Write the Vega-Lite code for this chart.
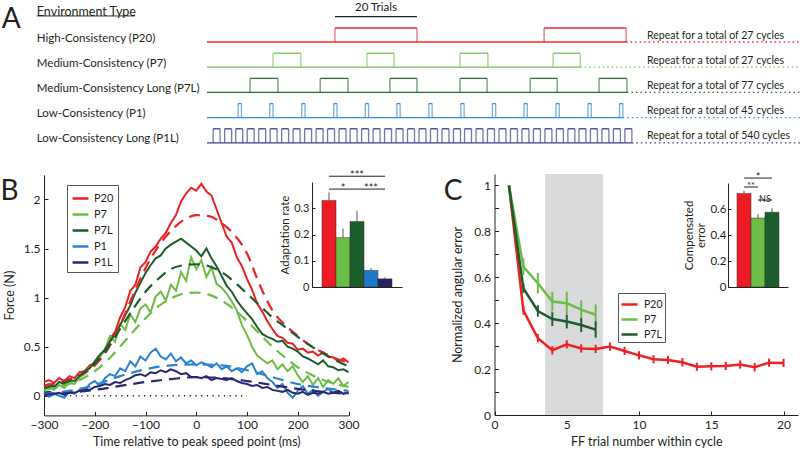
{
"$schema":"https://vega.github.io/schema/vega-lite/v6.json",
"width":800,"height":451,"autosize":{"type":"none"},"padding":0,"background":"white",
"config":{
 "view":{"stroke":null},
 "font":"Lato",
 "text":{"font":"Lato","color":"#231f20"},
 "axis":{"grid":false,"labelFont":"Lato","titleFont":"Lato","labelFontSize":12,"titleFontSize":12.5,"titleFontWeight":"normal","labelColor":"#231f20","titleColor":"#231f20","domainColor":"#231f20","tickColor":"#231f20","domainWidth":1,"tickWidth":1,"labelFlush":false,"labelOverlap":false},
 "legend":{"labelFont":"Lato","labelFontSize":11,"labelColor":"#231f20"}
},
"datasets":{
 "pulses":[
  {"env":"High-Consistency (P20)","s":31.2,"e":51.2},{"env":"High-Consistency (P20)","s":82.2,"e":102.2},
  {"env":"Medium-Consistency (P7)","s":16.1,"e":22.9},{"env":"Medium-Consistency (P7)","s":39.0,"e":45.6},{"env":"Medium-Consistency (P7)","s":61.7,"e":68.5},{"env":"Medium-Consistency (P7)","s":84.4,"e":91.0},
  {"env":"Medium-Consistency Long (P7L)","s":10.5,"e":17.3},{"env":"Medium-Consistency Long (P7L)","s":27.6,"e":34.4},{"env":"Medium-Consistency Long (P7L)","s":44.6,"e":51.2},{"env":"Medium-Consistency Long (P7L)","s":61.7,"e":68.3},{"env":"Medium-Consistency Long (P7L)","s":78.8,"e":85.4},{"env":"Medium-Consistency Long (P7L)","s":95.6,"e":102.4},
  {"env":"Low-Consistency (P1)","s":7.6,"e":8.4},{"env":"Low-Consistency (P1)","s":15.3,"e":16.1},{"env":"Low-Consistency (P1)","s":23.1,"e":23.9},{"env":"Low-Consistency (P1)","s":30.9,"e":31.7},{"env":"Low-Consistency (P1)","s":38.6,"e":39.4},{"env":"Low-Consistency (P1)","s":46.3,"e":47.1},{"env":"Low-Consistency (P1)","s":54.1,"e":54.9},{"env":"Low-Consistency (P1)","s":61.9,"e":62.7},{"env":"Low-Consistency (P1)","s":69.6,"e":70.4},{"env":"Low-Consistency (P1)","s":77.3,"e":78.1},{"env":"Low-Consistency (P1)","s":85.1,"e":85.9},{"env":"Low-Consistency (P1)","s":92.9,"e":93.7},{"env":"Low-Consistency (P1)","s":100.6,"e":101.4},
  {"env":"Low-Consistency Long (P1L)","s":1.5,"e":3.2},{"env":"Low-Consistency Long (P1L)","s":4.3,"e":6.0},{"env":"Low-Consistency Long (P1L)","s":7.0,"e":8.7},{"env":"Low-Consistency Long (P1L)","s":9.8,"e":11.5},{"env":"Low-Consistency Long (P1L)","s":12.6,"e":14.3},{"env":"Low-Consistency Long (P1L)","s":15.4,"e":17.1},{"env":"Low-Consistency Long (P1L)","s":18.2,"e":19.9},{"env":"Low-Consistency Long (P1L)","s":21.0,"e":22.7},{"env":"Low-Consistency Long (P1L)","s":23.8,"e":25.5},{"env":"Low-Consistency Long (P1L)","s":26.6,"e":28.3},{"env":"Low-Consistency Long (P1L)","s":29.4,"e":31.1},{"env":"Low-Consistency Long (P1L)","s":32.2,"e":33.9},{"env":"Low-Consistency Long (P1L)","s":34.9,"e":36.6},{"env":"Low-Consistency Long (P1L)","s":37.7,"e":39.4},{"env":"Low-Consistency Long (P1L)","s":40.5,"e":42.2},{"env":"Low-Consistency Long (P1L)","s":43.3,"e":45.0},{"env":"Low-Consistency Long (P1L)","s":46.1,"e":47.8},{"env":"Low-Consistency Long (P1L)","s":48.9,"e":50.6},{"env":"Low-Consistency Long (P1L)","s":51.7,"e":53.4},{"env":"Low-Consistency Long (P1L)","s":54.5,"e":56.2},{"env":"Low-Consistency Long (P1L)","s":57.3,"e":59.0},{"env":"Low-Consistency Long (P1L)","s":60.1,"e":61.8},{"env":"Low-Consistency Long (P1L)","s":62.8,"e":64.5},{"env":"Low-Consistency Long (P1L)","s":65.6,"e":67.3},{"env":"Low-Consistency Long (P1L)","s":68.4,"e":70.1},{"env":"Low-Consistency Long (P1L)","s":71.2,"e":72.9},{"env":"Low-Consistency Long (P1L)","s":74.0,"e":75.7},{"env":"Low-Consistency Long (P1L)","s":76.8,"e":78.5},{"env":"Low-Consistency Long (P1L)","s":79.6,"e":81.3},{"env":"Low-Consistency Long (P1L)","s":82.4,"e":84.1},{"env":"Low-Consistency Long (P1L)","s":85.2,"e":86.9},{"env":"Low-Consistency Long (P1L)","s":88.0,"e":89.7},{"env":"Low-Consistency Long (P1L)","s":90.7,"e":92.4},{"env":"Low-Consistency Long (P1L)","s":93.5,"e":95.2},{"env":"Low-Consistency Long (P1L)","s":96.3,"e":98.0},{"env":"Low-Consistency Long (P1L)","s":99.1,"e":100.8},{"env":"Low-Consistency Long (P1L)","s":101.9,"e":103.6}
 ],
 "repeat":[
  {"env":"High-Consistency (P20)","end":102.2,"note":"Repeat for a total of 27 cycles"},
  {"env":"Medium-Consistency (P7)","end":91.0,"note":"Repeat for a total of 27 cycles"},
  {"env":"Medium-Consistency Long (P7L)","end":102.4,"note":"Repeat for a total of 77 cycles"},
  {"env":"Low-Consistency (P1)","end":101.4,"note":"Repeat for a total of 45 cycles"},
  {"env":"Low-Consistency Long (P1L)","end":103.6,"note":"Repeat for a total of 540 cycles"}
 ],
 "forceSolid":[
  {"c":"P20","t":-300,"v":0.14},{"c":"P20","t":-290,"v":0.16},{"c":"P20","t":-280,"v":0.13},{"c":"P20","t":-270,"v":0.18},{"c":"P20","t":-260,"v":0.15},{"c":"P20","t":-250,"v":0.20},{"c":"P20","t":-240,"v":0.18},{"c":"P20","t":-230,"v":0.24},{"c":"P20","t":-220,"v":0.25},{"c":"P20","t":-210,"v":0.31},{"c":"P20","t":-200,"v":0.33},{"c":"P20","t":-190,"v":0.41},{"c":"P20","t":-180,"v":0.46},{"c":"P20","t":-170,"v":0.58},{"c":"P20","t":-160,"v":0.65},{"c":"P20","t":-150,"v":0.80},{"c":"P20","t":-140,"v":0.90},{"c":"P20","t":-130,"v":1.07},{"c":"P20","t":-120,"v":1.13},{"c":"P20","t":-110,"v":1.31},{"c":"P20","t":-100,"v":1.36},{"c":"P20","t":-90,"v":1.47},{"c":"P20","t":-80,"v":1.52},{"c":"P20","t":-70,"v":1.60},{"c":"P20","t":-60,"v":1.66},{"c":"P20","t":-50,"v":1.76},{"c":"P20","t":-40,"v":1.84},{"c":"P20","t":-30,"v":1.98},{"c":"P20","t":-20,"v":2.06},{"c":"P20","t":-10,"v":2.12},{"c":"P20","t":0,"v":2.09},{"c":"P20","t":10,"v":2.16},{"c":"P20","t":20,"v":2.08},{"c":"P20","t":30,"v":2.04},{"c":"P20","t":40,"v":1.90},{"c":"P20","t":50,"v":1.76},{"c":"P20","t":60,"v":1.62},{"c":"P20","t":70,"v":1.56},{"c":"P20","t":80,"v":1.41},{"c":"P20","t":90,"v":1.32},{"c":"P20","t":100,"v":1.19},{"c":"P20","t":110,"v":1.08},{"c":"P20","t":120,"v":0.94},{"c":"P20","t":130,"v":0.86},{"c":"P20","t":140,"v":0.76},{"c":"P20","t":150,"v":0.68},{"c":"P20","t":160,"v":0.61},{"c":"P20","t":170,"v":0.59},{"c":"P20","t":180,"v":0.54},{"c":"P20","t":190,"v":0.53},{"c":"P20","t":200,"v":0.47},{"c":"P20","t":210,"v":0.48},{"c":"P20","t":220,"v":0.44},{"c":"P20","t":230,"v":0.45},{"c":"P20","t":240,"v":0.41},{"c":"P20","t":250,"v":0.44},{"c":"P20","t":260,"v":0.40},{"c":"P20","t":270,"v":0.39},{"c":"P20","t":280,"v":0.35},{"c":"P20","t":290,"v":0.38},{"c":"P20","t":300,"v":0.34},
  {"c":"P7","t":-300,"v":0.05},{"c":"P7","t":-290,"v":0.09},{"c":"P7","t":-280,"v":0.06},{"c":"P7","t":-270,"v":0.11},{"c":"P7","t":-260,"v":0.08},{"c":"P7","t":-250,"v":0.14},{"c":"P7","t":-240,"v":0.12},{"c":"P7","t":-230,"v":0.19},{"c":"P7","t":-220,"v":0.22},{"c":"P7","t":-210,"v":0.29},{"c":"P7","t":-200,"v":0.33},{"c":"P7","t":-190,"v":0.39},{"c":"P7","t":-180,"v":0.47},{"c":"P7","t":-170,"v":0.61},{"c":"P7","t":-160,"v":0.55},{"c":"P7","t":-150,"v":0.73},{"c":"P7","t":-140,"v":0.67},{"c":"P7","t":-130,"v":0.83},{"c":"P7","t":-120,"v":0.75},{"c":"P7","t":-110,"v":0.89},{"c":"P7","t":-100,"v":0.93},{"c":"P7","t":-90,"v":0.85},{"c":"P7","t":-80,"v":1.01},{"c":"P7","t":-70,"v":1.06},{"c":"P7","t":-60,"v":0.97},{"c":"P7","t":-50,"v":1.13},{"c":"P7","t":-40,"v":1.07},{"c":"P7","t":-30,"v":1.26},{"c":"P7","t":-20,"v":1.17},{"c":"P7","t":-10,"v":1.41},{"c":"P7","t":0,"v":1.29},{"c":"P7","t":10,"v":1.38},{"c":"P7","t":20,"v":1.21},{"c":"P7","t":30,"v":1.31},{"c":"P7","t":40,"v":1.14},{"c":"P7","t":50,"v":1.10},{"c":"P7","t":60,"v":1.04},{"c":"P7","t":70,"v":0.96},{"c":"P7","t":80,"v":0.87},{"c":"P7","t":90,"v":0.72},{"c":"P7","t":100,"v":0.62},{"c":"P7","t":110,"v":0.50},{"c":"P7","t":120,"v":0.41},{"c":"P7","t":130,"v":0.37},{"c":"P7","t":140,"v":0.33},{"c":"P7","t":150,"v":0.36},{"c":"P7","t":160,"v":0.27},{"c":"P7","t":170,"v":0.32},{"c":"P7","t":180,"v":0.25},{"c":"P7","t":190,"v":0.30},{"c":"P7","t":200,"v":0.21},{"c":"P7","t":210,"v":0.14},{"c":"P7","t":220,"v":0.20},{"c":"P7","t":230,"v":0.11},{"c":"P7","t":240,"v":0.18},{"c":"P7","t":250,"v":0.09},{"c":"P7","t":260,"v":0.16},{"c":"P7","t":270,"v":0.12},{"c":"P7","t":280,"v":0.18},{"c":"P7","t":290,"v":0.10},{"c":"P7","t":300,"v":0.14},
  {"c":"P7L","t":-300,"v":0.10},{"c":"P7L","t":-290,"v":0.12},{"c":"P7L","t":-280,"v":0.09},{"c":"P7L","t":-270,"v":0.14},{"c":"P7L","t":-260,"v":0.12},{"c":"P7L","t":-250,"v":0.16},{"c":"P7L","t":-240,"v":0.15},{"c":"P7L","t":-230,"v":0.20},{"c":"P7L","t":-220,"v":0.25},{"c":"P7L","t":-210,"v":0.28},{"c":"P7L","t":-200,"v":0.35},{"c":"P7L","t":-190,"v":0.42},{"c":"P7L","t":-180,"v":0.47},{"c":"P7L","t":-170,"v":0.55},{"c":"P7L","t":-160,"v":0.63},{"c":"P7L","t":-150,"v":0.72},{"c":"P7L","t":-140,"v":0.82},{"c":"P7L","t":-130,"v":0.92},{"c":"P7L","t":-120,"v":1.05},{"c":"P7L","t":-110,"v":1.15},{"c":"P7L","t":-100,"v":1.25},{"c":"P7L","t":-90,"v":1.33},{"c":"P7L","t":-80,"v":1.40},{"c":"P7L","t":-70,"v":1.43},{"c":"P7L","t":-60,"v":1.50},{"c":"P7L","t":-50,"v":1.54},{"c":"P7L","t":-40,"v":1.57},{"c":"P7L","t":-30,"v":1.60},{"c":"P7L","t":-20,"v":1.56},{"c":"P7L","t":-10,"v":1.52},{"c":"P7L","t":0,"v":1.48},{"c":"P7L","t":10,"v":1.42},{"c":"P7L","t":20,"v":1.50},{"c":"P7L","t":30,"v":1.40},{"c":"P7L","t":40,"v":1.32},{"c":"P7L","t":50,"v":1.22},{"c":"P7L","t":60,"v":1.12},{"c":"P7L","t":70,"v":1.06},{"c":"P7L","t":80,"v":0.97},{"c":"P7L","t":90,"v":0.90},{"c":"P7L","t":100,"v":0.84},{"c":"P7L","t":110,"v":0.78},{"c":"P7L","t":120,"v":0.70},{"c":"P7L","t":130,"v":0.63},{"c":"P7L","t":140,"v":0.60},{"c":"P7L","t":150,"v":0.58},{"c":"P7L","t":160,"v":0.55},{"c":"P7L","t":170,"v":0.56},{"c":"P7L","t":180,"v":0.50},{"c":"P7L","t":190,"v":0.48},{"c":"P7L","t":200,"v":0.45},{"c":"P7L","t":210,"v":0.40},{"c":"P7L","t":220,"v":0.38},{"c":"P7L","t":230,"v":0.35},{"c":"P7L","t":240,"v":0.32},{"c":"P7L","t":250,"v":0.36},{"c":"P7L","t":260,"v":0.30},{"c":"P7L","t":270,"v":0.29},{"c":"P7L","t":280,"v":0.26},{"c":"P7L","t":290,"v":0.27},{"c":"P7L","t":300,"v":0.24},
  {"c":"P1","t":-300,"v":0.03},{"c":"P1","t":-290,"v":-0.01},{"c":"P1","t":-280,"v":0.02},{"c":"P1","t":-270,"v":0.00},{"c":"P1","t":-260,"v":-0.02},{"c":"P1","t":-250,"v":0.04},{"c":"P1","t":-240,"v":0.02},{"c":"P1","t":-230,"v":0.06},{"c":"P1","t":-220,"v":0.05},{"c":"P1","t":-210,"v":0.12},{"c":"P1","t":-200,"v":0.15},{"c":"P1","t":-190,"v":0.10},{"c":"P1","t":-180,"v":0.18},{"c":"P1","t":-170,"v":0.22},{"c":"P1","t":-160,"v":0.20},{"c":"P1","t":-150,"v":0.28},{"c":"P1","t":-140,"v":0.25},{"c":"P1","t":-130,"v":0.35},{"c":"P1","t":-120,"v":0.30},{"c":"P1","t":-110,"v":0.40},{"c":"P1","t":-100,"v":0.36},{"c":"P1","t":-90,"v":0.44},{"c":"P1","t":-80,"v":0.48},{"c":"P1","t":-70,"v":0.40},{"c":"P1","t":-60,"v":0.37},{"c":"P1","t":-50,"v":0.43},{"c":"P1","t":-40,"v":0.35},{"c":"P1","t":-30,"v":0.39},{"c":"P1","t":-20,"v":0.33},{"c":"P1","t":-10,"v":0.36},{"c":"P1","t":0,"v":0.31},{"c":"P1","t":10,"v":0.34},{"c":"P1","t":20,"v":0.32},{"c":"P1","t":30,"v":0.29},{"c":"P1","t":40,"v":0.33},{"c":"P1","t":50,"v":0.27},{"c":"P1","t":60,"v":0.30},{"c":"P1","t":70,"v":0.25},{"c":"P1","t":80,"v":0.28},{"c":"P1","t":90,"v":0.24},{"c":"P1","t":100,"v":0.30},{"c":"P1","t":110,"v":0.33},{"c":"P1","t":120,"v":0.22},{"c":"P1","t":130,"v":0.25},{"c":"P1","t":140,"v":0.18},{"c":"P1","t":150,"v":0.14},{"c":"P1","t":160,"v":0.08},{"c":"P1","t":170,"v":0.12},{"c":"P1","t":180,"v":0.03},{"c":"P1","t":190,"v":-0.02},{"c":"P1","t":200,"v":0.05},{"c":"P1","t":210,"v":0.10},{"c":"P1","t":220,"v":0.02},{"c":"P1","t":230,"v":0.06},{"c":"P1","t":240,"v":0.00},{"c":"P1","t":250,"v":0.04},{"c":"P1","t":260,"v":0.07},{"c":"P1","t":270,"v":0.03},{"c":"P1","t":280,"v":0.05},{"c":"P1","t":290,"v":0.02},{"c":"P1","t":300,"v":0.04},
  {"c":"P1L","t":-300,"v":0.03},{"c":"P1L","t":-290,"v":0.04},{"c":"P1L","t":-280,"v":0.02},{"c":"P1L","t":-270,"v":0.03},{"c":"P1L","t":-260,"v":0.01},{"c":"P1L","t":-250,"v":0.04},{"c":"P1L","t":-240,"v":0.03},{"c":"P1L","t":-230,"v":0.05},{"c":"P1L","t":-220,"v":0.07},{"c":"P1L","t":-210,"v":0.06},{"c":"P1L","t":-200,"v":0.09},{"c":"P1L","t":-190,"v":0.10},{"c":"P1L","t":-180,"v":0.12},{"c":"P1L","t":-170,"v":0.11},{"c":"P1L","t":-160,"v":0.14},{"c":"P1L","t":-150,"v":0.13},{"c":"P1L","t":-140,"v":0.16},{"c":"P1L","t":-130,"v":0.18},{"c":"P1L","t":-120,"v":0.21},{"c":"P1L","t":-110,"v":0.22},{"c":"P1L","t":-100,"v":0.20},{"c":"P1L","t":-90,"v":0.24},{"c":"P1L","t":-80,"v":0.23},{"c":"P1L","t":-70,"v":0.26},{"c":"P1L","t":-60,"v":0.24},{"c":"P1L","t":-50,"v":0.27},{"c":"P1L","t":-40,"v":0.25},{"c":"P1L","t":-30,"v":0.22},{"c":"P1L","t":-20,"v":0.23},{"c":"P1L","t":-10,"v":0.19},{"c":"P1L","t":0,"v":0.19},{"c":"P1L","t":10,"v":0.18},{"c":"P1L","t":20,"v":0.20},{"c":"P1L","t":30,"v":0.16},{"c":"P1L","t":40,"v":0.18},{"c":"P1L","t":50,"v":0.17},{"c":"P1L","t":60,"v":0.16},{"c":"P1L","t":70,"v":0.18},{"c":"P1L","t":80,"v":0.15},{"c":"P1L","t":90,"v":0.13},{"c":"P1L","t":100,"v":0.12},{"c":"P1L","t":110,"v":0.10},{"c":"P1L","t":120,"v":0.11},{"c":"P1L","t":130,"v":0.08},{"c":"P1L","t":140,"v":0.09},{"c":"P1L","t":150,"v":0.06},{"c":"P1L","t":160,"v":0.05},{"c":"P1L","t":170,"v":0.04},{"c":"P1L","t":180,"v":0.06},{"c":"P1L","t":190,"v":0.03},{"c":"P1L","t":200,"v":0.02},{"c":"P1L","t":210,"v":0.04},{"c":"P1L","t":220,"v":0.01},{"c":"P1L","t":230,"v":0.03},{"c":"P1L","t":240,"v":0.02},{"c":"P1L","t":250,"v":0.04},{"c":"P1L","t":260,"v":0.02},{"c":"P1L","t":270,"v":0.03},{"c":"P1L","t":280,"v":0.05},{"c":"P1L","t":290,"v":0.02},{"c":"P1L","t":300,"v":0.03}
 ],
 "forceFit":[
  {"c":"P20","t":-300,"v":0.10},{"c":"P20","t":-275,"v":0.13},{"c":"P20","t":-250,"v":0.17},{"c":"P20","t":-225,"v":0.22},{"c":"P20","t":-200,"v":0.31},{"c":"P20","t":-175,"v":0.47},{"c":"P20","t":-150,"v":0.72},{"c":"P20","t":-125,"v":1.02},{"c":"P20","t":-100,"v":1.30},{"c":"P20","t":-75,"v":1.52},{"c":"P20","t":-50,"v":1.68},{"c":"P20","t":-25,"v":1.79},{"c":"P20","t":0,"v":1.84},{"c":"P20","t":25,"v":1.83},{"c":"P20","t":50,"v":1.76},{"c":"P20","t":75,"v":1.64},{"c":"P20","t":100,"v":1.45},{"c":"P20","t":125,"v":1.13},{"c":"P20","t":150,"v":0.87},{"c":"P20","t":175,"v":0.72},{"c":"P20","t":200,"v":0.61},{"c":"P20","t":225,"v":0.51},{"c":"P20","t":250,"v":0.44},{"c":"P20","t":275,"v":0.38},{"c":"P20","t":300,"v":0.34},
  {"c":"P7","t":-300,"v":0.06},{"c":"P7","t":-250,"v":0.12},{"c":"P7","t":-200,"v":0.25},{"c":"P7","t":-175,"v":0.36},{"c":"P7","t":-150,"v":0.50},{"c":"P7","t":-125,"v":0.65},{"c":"P7","t":-100,"v":0.79},{"c":"P7","t":-75,"v":0.91},{"c":"P7","t":-50,"v":0.99},{"c":"P7","t":-25,"v":1.04},{"c":"P7","t":0,"v":1.05},{"c":"P7","t":25,"v":1.03},{"c":"P7","t":50,"v":0.97},{"c":"P7","t":75,"v":0.88},{"c":"P7","t":100,"v":0.76},{"c":"P7","t":125,"v":0.63},{"c":"P7","t":150,"v":0.50},{"c":"P7","t":175,"v":0.39},{"c":"P7","t":200,"v":0.29},{"c":"P7","t":225,"v":0.22},{"c":"P7","t":250,"v":0.16},{"c":"P7","t":275,"v":0.12},{"c":"P7","t":300,"v":0.09},
  {"c":"P7L","t":-300,"v":0.08},{"c":"P7L","t":-275,"v":0.11},{"c":"P7L","t":-250,"v":0.15},{"c":"P7L","t":-225,"v":0.22},{"c":"P7L","t":-200,"v":0.33},{"c":"P7L","t":-175,"v":0.48},{"c":"P7L","t":-150,"v":0.68},{"c":"P7L","t":-125,"v":0.88},{"c":"P7L","t":-100,"v":1.06},{"c":"P7L","t":-75,"v":1.19},{"c":"P7L","t":-50,"v":1.29},{"c":"P7L","t":-25,"v":1.33},{"c":"P7L","t":0,"v":1.34},{"c":"P7L","t":25,"v":1.32},{"c":"P7L","t":50,"v":1.26},{"c":"P7L","t":75,"v":1.16},{"c":"P7L","t":100,"v":1.04},{"c":"P7L","t":125,"v":0.92},{"c":"P7L","t":150,"v":0.80},{"c":"P7L","t":175,"v":0.70},{"c":"P7L","t":200,"v":0.60},{"c":"P7L","t":225,"v":0.51},{"c":"P7L","t":250,"v":0.43},{"c":"P7L","t":275,"v":0.36},{"c":"P7L","t":300,"v":0.30},
  {"c":"P1","t":-300,"v":0.02},{"c":"P1","t":-250,"v":0.05},{"c":"P1","t":-200,"v":0.11},{"c":"P1","t":-150,"v":0.20},{"c":"P1","t":-100,"v":0.27},{"c":"P1","t":-50,"v":0.31},{"c":"P1","t":0,"v":0.32},{"c":"P1","t":50,"v":0.31},{"c":"P1","t":100,"v":0.26},{"c":"P1","t":150,"v":0.19},{"c":"P1","t":200,"v":0.12},{"c":"P1","t":250,"v":0.08},{"c":"P1","t":300,"v":0.05},
  {"c":"P1L","t":-300,"v":0.01},{"c":"P1L","t":-250,"v":0.03},{"c":"P1L","t":-200,"v":0.06},{"c":"P1L","t":-150,"v":0.10},{"c":"P1L","t":-100,"v":0.14},{"c":"P1L","t":-50,"v":0.17},{"c":"P1L","t":0,"v":0.19},{"c":"P1L","t":50,"v":0.18},{"c":"P1L","t":100,"v":0.15},{"c":"P1L","t":150,"v":0.11},{"c":"P1L","t":200,"v":0.07},{"c":"P1L","t":250,"v":0.04},{"c":"P1L","t":300,"v":0.02}
 ],
 "rateB":[
  {"c":"P20","v":0.33,"hi":0.36},{"c":"P7","v":0.188,"hi":0.223},{"c":"P7L","v":0.25,"hi":0.29},{"c":"P1","v":0.063,"hi":0.072},{"c":"P1L","v":0.031,"hi":0.037}
 ],
 "sigB":[
  {"a":"P20","b":"P1L","y":0.422,"lab":"***","at":"P7L"},
  {"a":"P20","b":"P7L","y":0.373,"lab":"*","at":"P7"},
  {"a":"P7L","b":"P1L","y":0.373,"lab":"***","at":"P1"}
 ],
 "errC":[
  {"c":"P20","n":1,"v":1.0,"lo":1.0,"hi":1.0},{"c":"P20","n":2,"v":0.455,"lo":0.437,"hi":0.473},{"c":"P20","n":3,"v":0.335,"lo":0.317,"hi":0.353},{"c":"P20","n":4,"v":0.282,"lo":0.264,"hi":0.300},{"c":"P20","n":5,"v":0.308,"lo":0.290,"hi":0.326},{"c":"P20","n":6,"v":0.290,"lo":0.272,"hi":0.308},{"c":"P20","n":7,"v":0.288,"lo":0.270,"hi":0.306},{"c":"P20","n":8,"v":0.298,"lo":0.280,"hi":0.316},{"c":"P20","n":9,"v":0.279,"lo":0.261,"hi":0.297},{"c":"P20","n":10,"v":0.260,"lo":0.242,"hi":0.278},{"c":"P20","n":11,"v":0.243,"lo":0.225,"hi":0.261},{"c":"P20","n":12,"v":0.240,"lo":0.222,"hi":0.258},{"c":"P20","n":13,"v":0.230,"lo":0.212,"hi":0.248},{"c":"P20","n":14,"v":0.210,"lo":0.192,"hi":0.228},{"c":"P20","n":15,"v":0.212,"lo":0.194,"hi":0.230},{"c":"P20","n":16,"v":0.214,"lo":0.196,"hi":0.232},{"c":"P20","n":17,"v":0.220,"lo":0.202,"hi":0.238},{"c":"P20","n":18,"v":0.208,"lo":0.190,"hi":0.226},{"c":"P20","n":19,"v":0.228,"lo":0.210,"hi":0.246},{"c":"P20","n":20,"v":0.227,"lo":0.209,"hi":0.245},
  {"c":"P7","n":1,"v":1.0,"lo":1.0,"hi":1.0},{"c":"P7","n":2,"v":0.646,"lo":0.610,"hi":0.682},{"c":"P7","n":3,"v":0.574,"lo":0.529,"hi":0.619},{"c":"P7","n":4,"v":0.494,"lo":0.451,"hi":0.537},{"c":"P7","n":5,"v":0.487,"lo":0.437,"hi":0.537},{"c":"P7","n":6,"v":0.459,"lo":0.419,"hi":0.499},{"c":"P7","n":7,"v":0.437,"lo":0.392,"hi":0.482},
  {"c":"P7L","n":1,"v":1.0,"lo":1.0,"hi":1.0},{"c":"P7L","n":2,"v":0.552,"lo":0.532,"hi":0.572},{"c":"P7L","n":3,"v":0.453,"lo":0.428,"hi":0.478},{"c":"P7L","n":4,"v":0.418,"lo":0.388,"hi":0.448},{"c":"P7L","n":5,"v":0.407,"lo":0.377,"hi":0.437},{"c":"P7L","n":6,"v":0.392,"lo":0.362,"hi":0.422},{"c":"P7L","n":7,"v":0.372,"lo":0.337,"hi":0.407}
 ],
 "compC":[
  {"c":"P20","v":0.72,"hi":0.74},{"c":"P7","v":0.53,"hi":0.56},{"c":"P7L","v":0.575,"hi":0.605}
 ],
 "sigC":[
  {"a":"P20","b":"P7L","y":0.838,"lab":"*","at":"P7"},
  {"a":"P20","b":"P7","y":0.769,"lab":"**","at":"P20"},
  {"a":"P7","b":"P7L","y":0.669,"lab":"NS","at":"P7"}
 ]
},
"layer":[
 {
  "layer":[
   {"data":{"name":"repeat"},"mark":{"type":"rule","strokeWidth":1.3},
    "encoding":{
     "x":{"field":"end","type":"quantitative","scale":{"domain":[0,144.6],"range":[207,800],"nice":false,"zero":false},"axis":null},
     "x2":{"datum":0},
     "y":{"field":"env","type":"nominal","sort":null,"scale":{"domain":["High-Consistency (P20)","Medium-Consistency (P7)","Medium-Consistency Long (P7L)","Low-Consistency (P1)","Low-Consistency Long (P1L)"],"range":[28,154],"paddingInner":0,"paddingOuter":0},"axis":null},
     "yOffset":{"datum":0,"type":"quantitative","scale":{"domain":[0,1],"range":[14,0],"nice":false,"zero":false}},
     "color":{"field":"env","type":"nominal","scale":{"domain":["High-Consistency (P20)","Medium-Consistency (P7)","Medium-Consistency Long (P7L)","Low-Consistency (P1)","Low-Consistency Long (P1L)"],"range":["#ec2a2f","#74c258","#2e6b3b","#3a8dd3","#3d3a8b"]},"legend":null}}},
   {"data":{"name":"repeat"},"mark":{"type":"rule","strokeDash":[1.5,3],"strokeWidth":1.3},
    "encoding":{"x":{"field":"end","type":"quantitative","axis":null},"x2":{"datum":144.6},"y":{"field":"env","type":"nominal","axis":null},"yOffset":{"datum":0,"type":"quantitative"},"color":{"field":"env","type":"nominal","legend":null}}},
   {"data":{"name":"pulses"},"mark":{"type":"rule","strokeWidth":1.3},
    "encoding":{"x":{"field":"s","type":"quantitative","axis":null},"x2":{"field":"e"},"y":{"field":"env","type":"nominal","axis":null},"yOffset":{"datum":1,"type":"quantitative"},"color":{"field":"env","type":"nominal","legend":null}}},
   {"data":{"name":"pulses"},"mark":{"type":"tick","orient":"vertical","size":14,"thickness":1.3},
    "encoding":{"x":{"field":"s","type":"quantitative","axis":null},"y":{"field":"env","type":"nominal","axis":null},"yOffset":{"datum":0.5,"type":"quantitative"},"color":{"field":"env","type":"nominal","legend":null}}},
   {"data":{"name":"pulses"},"mark":{"type":"tick","orient":"vertical","size":14,"thickness":1.3},
    "encoding":{"x":{"field":"e","type":"quantitative","axis":null},"y":{"field":"env","type":"nominal","axis":null},"yOffset":{"datum":0.5,"type":"quantitative"},"color":{"field":"env","type":"nominal","legend":null}}},
   {"data":{"name":"repeat"},"mark":{"type":"text","align":"left","baseline":"middle","fontSize":11.5},
    "encoding":{"x":{"datum":-41.5,"type":"quantitative","axis":null},"y":{"field":"env","type":"nominal","axis":null},"yOffset":{"datum":0.25,"type":"quantitative"},"text":{"field":"env"}}},
   {"data":{"name":"repeat"},"mark":{"type":"text","align":"left","baseline":"middle","fontSize":10.5},
    "encoding":{"x":{"datum":107.3,"type":"quantitative","axis":null},"y":{"field":"env","type":"nominal","axis":null},"yOffset":{"datum":0.46,"type":"quantitative"},"text":{"field":"note"}}},
   {"data":{"values":[{"label":"20 Trials"}]},"mark":{"type":"rule","color":"#231f20","strokeWidth":1.3},
    "encoding":{"x":{"datum":31.2,"type":"quantitative","axis":null},"x2":{"datum":51.2},"y":{"datum":"High-Consistency (P20)","type":"nominal","axis":null},"yOffset":{"datum":1.81,"type":"quantitative"}}},
   {"data":{"values":[{"label":"20 Trials"}]},"mark":{"type":"text","baseline":"middle","fontSize":11.5},
    "encoding":{"x":{"datum":41.2,"type":"quantitative","axis":null},"y":{"datum":"High-Consistency (P20)","type":"nominal","axis":null},"yOffset":{"datum":2.43,"type":"quantitative"},"text":{"field":"label"}}},
   {"data":{"values":[{"label":"Environment Type"}]},"mark":{"type":"text","align":"left","baseline":"middle","fontSize":12.5},
    "encoding":{"x":{"datum":-41.5,"type":"quantitative","axis":null},"y":{"datum":"High-Consistency (P20)","type":"nominal","axis":null},"yOffset":{"datum":2.14,"type":"quantitative"},"text":{"field":"label"}}},
   {"data":{"values":[{"label":"Environment Type"}]},"mark":{"type":"rule","color":"#231f20","strokeWidth":0.9},
    "encoding":{"x":{"datum":-41.5,"type":"quantitative","axis":null},"x2":{"datum":-17.6},"y":{"datum":"High-Consistency (P20)","type":"nominal","axis":null},"yOffset":{"datum":1.86,"type":"quantitative"}}}
  ]
 },
 {"data":{"values":[{"t0":-260,"t1":100,"v":0}]},"mark":{"type":"rule","strokeDash":[1.2,4.5],"color":"#231f20","strokeWidth":1.3},
  "encoding":{
   "x":{"field":"t0","type":"quantitative","scale":{"domain":[-300,300],"range":[44,348.5],"nice":false,"zero":false},"axis":{"orient":"bottom","offset":-35.6,"values":[-300,-200,-100,0,100,200,300],"tickSize":-4,"labelPadding":8,"title":"Time relative to peak speed point (ms)","titlePadding":5}},
   "x2":{"field":"t1"},
   "y":{"field":"v","type":"quantitative","scale":{"domain":[-0.2,2.25],"range":[415.4,174.9],"nice":false,"zero":false},"axis":{"orient":"left","offset":-44,"values":[0,0.5,1,1.5,2],"format":".1~f","tickSize":-4,"labelPadding":8,"title":"Force (N)","titlePadding":7}}}},
 {
  "layer":[
   {"data":{"name":"forceSolid"},"mark":{"type":"line","strokeWidth":2},
    "encoding":{"x":{"field":"t","type":"quantitative","scale":{"domain":[-300,300],"range":[44,348.5],"nice":false,"zero":false},"axis":null},"y":{"field":"v","type":"quantitative","scale":{"domain":[-0.2,2.25],"range":[415.4,174.9],"nice":false,"zero":false},"axis":null},
     "color":{"field":"c","type":"nominal","scale":{"domain":["P20","P7","P7L","P1","P1L"],"range":["#ed2024","#6cbd45","#1e5c2d","#2b83cf","#2a2670"]},
      "legend":{"orient":"none","legendX":67,"legendY":185,"title":null,"strokeColor":"#555","fillColor":"white","padding":4,"symbolType":"stroke","symbolStrokeWidth":2.5,"symbolSize":250,"labelFontSize":11,"rowPadding":1,"labelOffset":4}}}},
   {"data":{"name":"forceFit"},"mark":{"type":"line","strokeWidth":2.2,"strokeDash":[11,7],"interpolate":"monotone"},
    "encoding":{"x":{"field":"t","type":"quantitative","axis":null},"y":{"field":"v","type":"quantitative","axis":null},"color":{"field":"c","type":"nominal","legend":null}}},
   {"data":{"values":[{"p":"A"}]},"mark":{"type":"text","fontSize":28,"baseline":"alphabetic"},
    "encoding":{"x":{"datum":-364.5,"type":"quantitative","axis":null},"y":{"datum":3.742,"type":"quantitative","axis":null},"text":{"field":"p"}}},
   {"data":{"values":[{"p":"B"}]},"mark":{"type":"text","fontSize":28,"baseline":"alphabetic"},
    "encoding":{"x":{"datum":-367.9,"type":"quantitative","axis":null},"y":{"datum":1.994,"type":"quantitative","axis":null},"text":{"field":"p"}}}
  ]
 },
 {"data":{"name":"rateB"},"mark":{"type":"bar","stroke":"#333","strokeWidth":0.5},
  "encoding":{
   "x":{"field":"c","type":"nominal","sort":null,"scale":{"domain":["P20","P7","P7L","P1","P1L"],"range":[312,402],"paddingInner":0,"paddingOuter":0.714},"axis":{"orient":"bottom","offset":-164,"labels":false,"ticks":false,"title":null}},
   "y":{"field":"v","type":"quantitative","scale":{"domain":[0,0.4],"range":[287,182],"nice":false,"zero":false},"axis":{"orient":"left","offset":-312,"values":[0,0.1,0.2,0.3],"format":".1~f","tickSize":-3,"labelPadding":6,"labelFontSize":11,"title":"Adaptation rate","titleFontSize":11.5,"titlePadding":3}},
   "color":{"field":"c","type":"nominal","scale":{"domain":["P20","P7","P7L","P1","P1L"],"range":["#ed1c24","#6abd45","#1b5e2b","#2079c7","#262262"]},"legend":null}}},
 {
  "layer":[
   {"data":{"name":"rateB"},"mark":{"type":"rule","color":"#555","strokeWidth":1},
    "encoding":{"x":{"field":"c","type":"nominal","sort":null,"scale":{"domain":["P20","P7","P7L","P1","P1L"],"range":[312,402],"paddingInner":0,"paddingOuter":0.714},"axis":null},"y":{"field":"v","type":"quantitative","scale":{"domain":[0,0.4],"range":[287,182],"nice":false,"zero":false},"axis":null},"y2":{"field":"hi"}}},
   {"data":{"name":"sigB"},"mark":{"type":"rule","color":"#231f20","strokeWidth":1},
    "encoding":{"x":{"field":"a","type":"nominal","axis":null},"x2":{"field":"b"},"y":{"field":"y","type":"quantitative","axis":null}}},
   {"data":{"name":"sigB"},"mark":{"type":"text","fontSize":11,"baseline":"alphabetic","dy":2.5},
    "encoding":{"x":{"field":"at","type":"nominal","axis":null},"y":{"field":"y","type":"quantitative","axis":null},"text":{"field":"lab"}}}
  ]
 },
 {"data":{"values":[{"from":3.5,"to":7.5,"lo":0,"hi":1.05}]},"mark":{"type":"rect","color":"#d9dadc"},
  "encoding":{
   "x":{"field":"from","type":"quantitative","scale":{"domain":[0,21],"range":[494.5,798],"nice":false,"zero":false},"axis":{"orient":"bottom","offset":-36,"values":[0,5,10,15,20],"tickSize":-4,"labelPadding":8,"title":"FF trial number within cycle","titlePadding":5}},
   "x2":{"field":"to"},
   "y":{"field":"lo","type":"quantitative","scale":{"domain":[0,1.05],"range":[415,174],"nice":false,"zero":false},"axis":{"orient":"left","offset":-494.5,"values":[0,0.1,0.2,0.3,0.4,0.5,0.6,0.7,0.8,0.9,1],"format":".1~f","labelExpr":"indexof(['0','0.2','0.4','0.6','0.8','1'], datum.label) >= 0 ? datum.label : ''","tickSize":-4,"labelPadding":8,"title":"Normalized angular error","titlePadding":9}},
   "y2":{"field":"hi"}}},
 {
  "layer":[
   {"data":{"name":"errC"},"mark":{"type":"line","strokeWidth":2.5},
    "encoding":{"x":{"field":"n","type":"quantitative","scale":{"domain":[0,21],"range":[494.5,798],"nice":false,"zero":false},"axis":null},"y":{"field":"v","type":"quantitative","scale":{"domain":[0,1.05],"range":[415,174],"nice":false,"zero":false},"axis":null},
     "color":{"field":"c","type":"nominal","scale":{"domain":["P20","P7","P7L"],"range":["#ed2024","#6cbd45","#1e5c2d"]},
      "legend":{"orient":"none","legendX":618,"legendY":293,"title":null,"strokeColor":"#555","fillColor":"white","padding":2,"symbolType":"stroke","symbolStrokeWidth":2.5,"symbolSize":260,"labelFontSize":10.5,"rowPadding":-2,"labelOffset":5}}}},
   {"data":{"name":"errC"},"mark":{"type":"rule","strokeWidth":2},
    "encoding":{"x":{"field":"n","type":"quantitative","axis":null},"y":{"field":"lo","type":"quantitative","axis":null},"y2":{"field":"hi"},"color":{"field":"c","type":"nominal","legend":null}}},
   {"data":{"values":[{"p":"C"}]},"mark":{"type":"text","fontSize":28,"baseline":"alphabetic"},
    "encoding":{"x":{"datum":-2.87,"type":"quantitative","axis":null},"y":{"datum":0.937,"type":"quantitative","axis":null},"text":{"field":"p"}}}
  ]
 },
 {"data":{"name":"compC"},"mark":{"type":"bar","stroke":"#333","strokeWidth":0.5},
  "encoding":{
   "x":{"field":"c","type":"nominal","sort":null,"scale":{"domain":["P20","P7","P7L"],"range":[728,788],"paddingInner":0,"paddingOuter":0.643},"axis":{"orient":"bottom","offset":-164,"labels":false,"ticks":false,"title":null}},
   "y":{"field":"v","type":"quantitative","scale":{"domain":[0,0.8],"range":[287,183],"nice":false,"zero":false},"axis":{"orient":"left","offset":-728,"values":[0,0.2,0.4,0.6],"format":".1~f","tickSize":-3,"labelPadding":5,"labelFontSize":11.5,"title":["Compensated","error"],"titleFontSize":11.5,"titlePadding":3,"titleLineHeight":12}},
   "color":{"field":"c","type":"nominal","scale":{"domain":["P20","P7","P7L"],"range":["#ed1c24","#6abd45","#1b5e2b"]},"legend":null}}},
 {
  "layer":[
   {"data":{"name":"compC"},"mark":{"type":"rule","color":"#555","strokeWidth":1},
    "encoding":{"x":{"field":"c","type":"nominal","sort":null,"scale":{"domain":["P20","P7","P7L"],"range":[728,788],"paddingInner":0,"paddingOuter":0.643},"axis":null},"y":{"field":"v","type":"quantitative","scale":{"domain":[0,0.8],"range":[287,183],"nice":false,"zero":false},"axis":null},"y2":{"field":"hi"}}},
   {"data":{"name":"sigC"},"mark":{"type":"rule","color":"#231f20","strokeWidth":1},
    "encoding":{"x":{"field":"a","type":"nominal","axis":null},"x2":{"field":"b"},"y":{"field":"y","type":"quantitative","axis":null}}},
   {"data":{"name":"sigC"},"transform":[{"filter":"datum.lab == '*'"}],"mark":{"type":"text","fontSize":11,"baseline":"alphabetic","dy":2.5},
    "encoding":{"x":{"field":"at","type":"nominal","axis":null},"y":{"field":"y","type":"quantitative","axis":null},"text":{"field":"lab"}}},
   {"data":{"name":"sigC"},"transform":[{"filter":"datum.lab != '*'"}],"mark":{"type":"text","fontSize":9,"baseline":"alphabetic","dy":1.5},
    "encoding":{"x":{"field":"at","type":"nominal","bandPosition":1,"axis":null},"y":{"field":"y","type":"quantitative","axis":null},"text":{"field":"lab"}}}
  ]
 }
],
"resolve":{"scale":{"x":"independent","y":"independent","color":"independent"},"axis":{"x":"independent","y":"independent"},"legend":{"color":"independent"}}
}
